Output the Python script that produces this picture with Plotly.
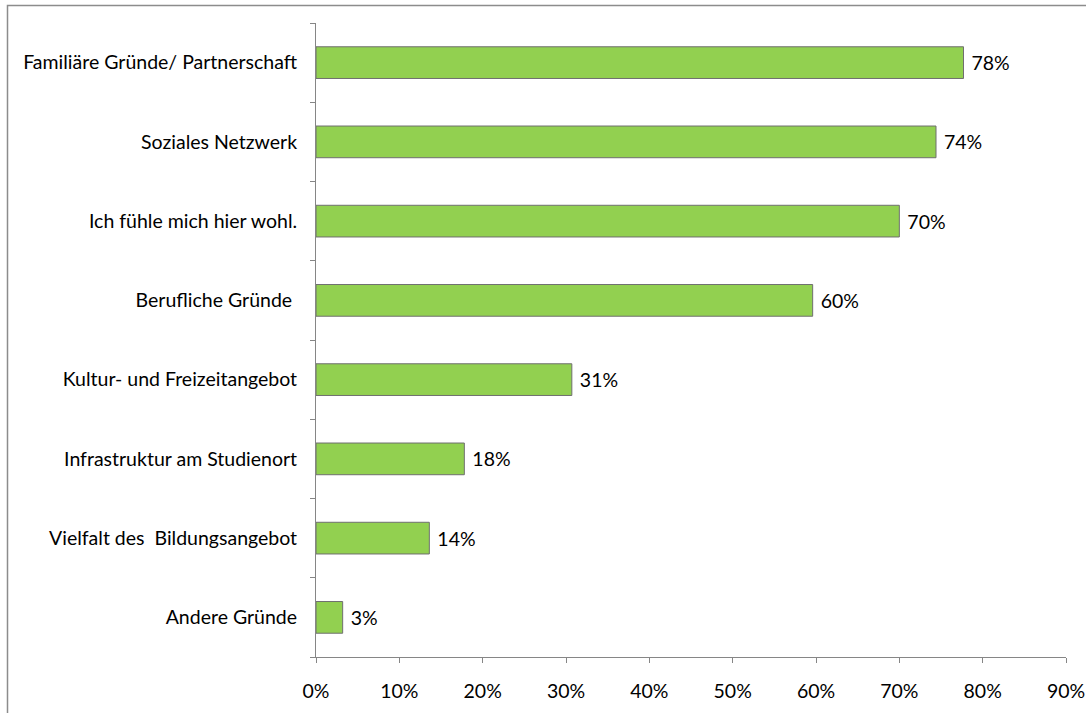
import plotly.graph_objects as go

# Reasons for staying, share of respondents (%)
categories = [
    "Familiäre Gründe/ Partnerschaft",
    "Soziales Netzwerk",
    "Ich fühle mich hier wohl.",
    "Berufliche Gründe\u00a0",
    "Kultur- und Freizeitangebot",
    "Infrastruktur am Studienort",
    "Vielfalt des\u00a0\u00a0Bildungsangebot",
    "Andere Gründe",
]
values = [77.7, 74.4, 70.0, 59.6, 30.7, 17.8, 13.6, 3.2]
x_ticks = [0, 10, 20, 30, 40, 50, 60, 70, 80, 90]
x_tick_labels = [f"{t}%" for t in x_ticks]

FONT = "Lato, 'Open Sans', sans-serif"
FSIZE = 19.5
AXIS_GREY = "#868686"

W, H = 1086, 713
ML, MR, MT, MB = 316, 20, 23, 56
PW, PH = W - ML - MR, H - MT - MB

fig = go.Figure(
    go.Bar(
        x=values,
        y=categories,
        orientation="h",
        width=0.4,
        marker=dict(color="#92D050", line=dict(color="#6f6f6f", width=1)),
        texttemplate="\u00a0%{x:.0f}%",
        textposition="outside",
        textfont=dict(family=FONT, size=FSIZE, color="#000000"),
        cliponaxis=False,
        hoverinfo="skip",
    )
)

fig.update_layout(
    width=W,
    height=H,
    margin=dict(l=ML, r=MR, t=MT, b=MB, autoexpand=False),
    paper_bgcolor="white",
    plot_bgcolor="white",
    showlegend=False,
    font=dict(family=FONT, size=FSIZE, color="#000000"),
    xaxis=dict(
        range=[0, 90],
        tickvals=x_ticks,
        ticktext=x_tick_labels,
        showgrid=False,
        zeroline=False,
        showline=True,
        linecolor=AXIS_GREY,
        linewidth=1,
        ticks="outside",
        ticklen=5,
        tickcolor=AXIS_GREY,
        ticklabelstandoff=12,
        automargin=False,
        tickfont=dict(family=FONT, size=FSIZE, color="#000000"),
    ),
    yaxis=dict(
        categoryorder="array",
        categoryarray=categories[::-1],
        autorange=False,
        range=[-0.5, len(categories) - 0.5],
        showgrid=False,
        zeroline=False,
        showline=True,
        linecolor=AXIS_GREY,
        linewidth=1,
        ticks="outside",
        tickson="boundaries",
        ticklen=5,
        tickcolor=AXIS_GREY,
        ticklabelstandoff=14,
        automargin=False,
        tickfont=dict(family=FONT, size=FSIZE, color="#000000"),
    ),
    shapes=[
        dict(
            type="rect",
            xref="paper",
            yref="paper",
            x0=-(ML - 7.5) / PW,
            x1=1.1,
            y0=-0.2,
            y1=1 + (MT - 5.5) / PH,
            line=dict(color="#8c8c8c", width=1.5),
            fillcolor="rgba(0,0,0,0)",
            layer="below",
        )
    ],
)

fig.write_html("out.html")
